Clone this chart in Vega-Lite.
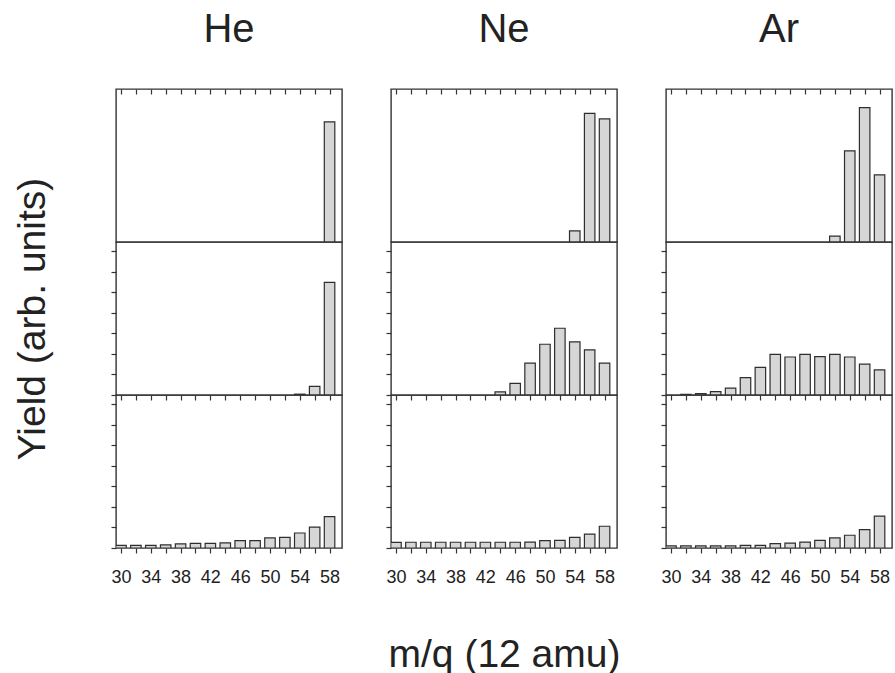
{
  "$schema": "https://vega.github.io/schema/vega-lite/v6.json",
  "autosize": {"type": "pad"},
  "padding": {"left": 12, "top": 9, "right": 0, "bottom": 0},
  "background": "white",
  "data": {"values": [
    {"gas": "He", "row": 1, "mz": 58, "v": 5.85},
    {"gas": "He", "row": 2, "mz": 54, "v": 0.04},
    {"gas": "He", "row": 2, "mz": 56, "v": 0.42},
    {"gas": "He", "row": 2, "mz": 58, "v": 5.48},
    {"gas": "He", "row": 3, "mz": 30, "v": 0.13},
    {"gas": "He", "row": 3, "mz": 32, "v": 0.13},
    {"gas": "He", "row": 3, "mz": 34, "v": 0.13},
    {"gas": "He", "row": 3, "mz": 36, "v": 0.15},
    {"gas": "He", "row": 3, "mz": 38, "v": 0.2},
    {"gas": "He", "row": 3, "mz": 40, "v": 0.23},
    {"gas": "He", "row": 3, "mz": 42, "v": 0.23},
    {"gas": "He", "row": 3, "mz": 44, "v": 0.25},
    {"gas": "He", "row": 3, "mz": 46, "v": 0.36},
    {"gas": "He", "row": 3, "mz": 48, "v": 0.36},
    {"gas": "He", "row": 3, "mz": 50, "v": 0.49},
    {"gas": "He", "row": 3, "mz": 52, "v": 0.52},
    {"gas": "He", "row": 3, "mz": 54, "v": 0.73},
    {"gas": "He", "row": 3, "mz": 56, "v": 1.02},
    {"gas": "He", "row": 3, "mz": 58, "v": 1.53},
    {"gas": "Ne", "row": 1, "mz": 54, "v": 0.54},
    {"gas": "Ne", "row": 1, "mz": 56, "v": 6.26},
    {"gas": "Ne", "row": 1, "mz": 58, "v": 6.0},
    {"gas": "Ne", "row": 2, "mz": 44, "v": 0.15},
    {"gas": "Ne", "row": 2, "mz": 46, "v": 0.57},
    {"gas": "Ne", "row": 2, "mz": 48, "v": 1.55},
    {"gas": "Ne", "row": 2, "mz": 50, "v": 2.47},
    {"gas": "Ne", "row": 2, "mz": 52, "v": 3.25},
    {"gas": "Ne", "row": 2, "mz": 54, "v": 2.59},
    {"gas": "Ne", "row": 2, "mz": 56, "v": 2.2},
    {"gas": "Ne", "row": 2, "mz": 58, "v": 1.55},
    {"gas": "Ne", "row": 3, "mz": 30, "v": 0.27},
    {"gas": "Ne", "row": 3, "mz": 32, "v": 0.28},
    {"gas": "Ne", "row": 3, "mz": 34, "v": 0.28},
    {"gas": "Ne", "row": 3, "mz": 36, "v": 0.28},
    {"gas": "Ne", "row": 3, "mz": 38, "v": 0.28},
    {"gas": "Ne", "row": 3, "mz": 40, "v": 0.28},
    {"gas": "Ne", "row": 3, "mz": 42, "v": 0.28},
    {"gas": "Ne", "row": 3, "mz": 44, "v": 0.28},
    {"gas": "Ne", "row": 3, "mz": 46, "v": 0.28},
    {"gas": "Ne", "row": 3, "mz": 48, "v": 0.29},
    {"gas": "Ne", "row": 3, "mz": 50, "v": 0.36},
    {"gas": "Ne", "row": 3, "mz": 52, "v": 0.37},
    {"gas": "Ne", "row": 3, "mz": 54, "v": 0.52},
    {"gas": "Ne", "row": 3, "mz": 56, "v": 0.68},
    {"gas": "Ne", "row": 3, "mz": 58, "v": 1.06},
    {"gas": "Ar", "row": 1, "mz": 52, "v": 0.29},
    {"gas": "Ar", "row": 1, "mz": 54, "v": 4.44},
    {"gas": "Ar", "row": 1, "mz": 56, "v": 6.54},
    {"gas": "Ar", "row": 1, "mz": 58, "v": 3.27},
    {"gas": "Ar", "row": 2, "mz": 32, "v": 0.03},
    {"gas": "Ar", "row": 2, "mz": 34, "v": 0.07},
    {"gas": "Ar", "row": 2, "mz": 36, "v": 0.16},
    {"gas": "Ar", "row": 2, "mz": 38, "v": 0.33},
    {"gas": "Ar", "row": 2, "mz": 40, "v": 0.85},
    {"gas": "Ar", "row": 2, "mz": 42, "v": 1.35},
    {"gas": "Ar", "row": 2, "mz": 44, "v": 1.98},
    {"gas": "Ar", "row": 2, "mz": 46, "v": 1.85},
    {"gas": "Ar", "row": 2, "mz": 48, "v": 1.98},
    {"gas": "Ar", "row": 2, "mz": 50, "v": 1.87},
    {"gas": "Ar", "row": 2, "mz": 52, "v": 1.98},
    {"gas": "Ar", "row": 2, "mz": 54, "v": 1.85},
    {"gas": "Ar", "row": 2, "mz": 56, "v": 1.5},
    {"gas": "Ar", "row": 2, "mz": 58, "v": 1.22},
    {"gas": "Ar", "row": 3, "mz": 30, "v": 0.1},
    {"gas": "Ar", "row": 3, "mz": 32, "v": 0.1},
    {"gas": "Ar", "row": 3, "mz": 34, "v": 0.1},
    {"gas": "Ar", "row": 3, "mz": 36, "v": 0.1},
    {"gas": "Ar", "row": 3, "mz": 38, "v": 0.1},
    {"gas": "Ar", "row": 3, "mz": 40, "v": 0.13},
    {"gas": "Ar", "row": 3, "mz": 42, "v": 0.13},
    {"gas": "Ar", "row": 3, "mz": 44, "v": 0.21},
    {"gas": "Ar", "row": 3, "mz": 46, "v": 0.24},
    {"gas": "Ar", "row": 3, "mz": 48, "v": 0.29},
    {"gas": "Ar", "row": 3, "mz": 50, "v": 0.37},
    {"gas": "Ar", "row": 3, "mz": 52, "v": 0.49},
    {"gas": "Ar", "row": 3, "mz": 54, "v": 0.62},
    {"gas": "Ar", "row": 3, "mz": 56, "v": 0.89},
    {"gas": "Ar", "row": 3, "mz": 58, "v": 1.55}
  ]},
  "columns": 3,
  "spacing": {"row": 0, "column": 49},
  "bounds": "flush",
  "concat": [
    {
      "width": 226, "height": 153,
      "title": {"text": "He"},
      "transform": [{"filter": "datum.gas === 'He' && datum.row === 1"}],
      "layer": [
        {
          "mark": {"type": "bar", "width": 10.5, "fill": "#d6d6d6", "stroke": "#2e2e2e", "strokeWidth": 1.2, "clip": true},
          "encoding": {
            "x": {"field": "mz", "type": "quantitative", "scale": {"domain": [30, 59], "nice": false, "zero": false}, "axis": {"values": [30,32,34,36,38,40,42,44,46,48,50,52,54,56,58], "labels": false, "title": null}},
            "y": {"field": "v", "type": "quantitative", "scale": {"domain": [0, 7.45], "nice": false}, "axis": {"values": [0,1,2,3,4,5,6,7], "labels": false, "title": null}}
          }
        },
        {
          "mark": {"type": "bar", "width": 10.5, "opacity": 0},
          "encoding": {
            "x": {"field": "mz", "type": "quantitative", "axis": {"orient": "top", "values": [32,36,40,44,48,52,56], "labels": false, "title": null, "tickSize": -5}},
            "y": {"field": "v", "type": "quantitative", "axis": null}
          }
        }
      ]
    },
    {
      "width": 226, "height": 153,
      "title": {"text": "Ne"},
      "transform": [{"filter": "datum.gas === 'Ne' && datum.row === 1"}],
      "layer": [
        {
          "mark": {"type": "bar", "width": 10.5, "fill": "#d6d6d6", "stroke": "#2e2e2e", "strokeWidth": 1.2, "clip": true},
          "encoding": {
            "x": {"field": "mz", "type": "quantitative", "scale": {"domain": [30, 59], "nice": false, "zero": false}, "axis": {"values": [30,32,34,36,38,40,42,44,46,48,50,52,54,56,58], "labels": false, "title": null}},
            "y": {"field": "v", "type": "quantitative", "scale": {"domain": [0, 7.45], "nice": false}, "axis": {"values": [0,1,2,3,4,5,6,7], "labels": false, "title": null}}
          }
        },
        {
          "mark": {"type": "bar", "width": 10.5, "opacity": 0},
          "encoding": {
            "x": {"field": "mz", "type": "quantitative", "axis": {"orient": "top", "values": [32,36,40,44,48,52,56], "labels": false, "title": null, "tickSize": -5}},
            "y": {"field": "v", "type": "quantitative", "axis": null}
          }
        }
      ]
    },
    {
      "width": 226, "height": 153,
      "title": {"text": "Ar"},
      "transform": [{"filter": "datum.gas === 'Ar' && datum.row === 1"}],
      "layer": [
        {
          "mark": {"type": "bar", "width": 10.5, "fill": "#d6d6d6", "stroke": "#2e2e2e", "strokeWidth": 1.2, "clip": true},
          "encoding": {
            "x": {"field": "mz", "type": "quantitative", "scale": {"domain": [30, 59], "nice": false, "zero": false}, "axis": {"values": [30,32,34,36,38,40,42,44,46,48,50,52,54,56,58], "labels": false, "title": null}},
            "y": {"field": "v", "type": "quantitative", "scale": {"domain": [0, 7.45], "nice": false}, "axis": {"values": [0,1,2,3,4,5,6,7], "labels": false, "title": null}}
          }
        },
        {
          "mark": {"type": "bar", "width": 10.5, "opacity": 0},
          "encoding": {
            "x": {"field": "mz", "type": "quantitative", "axis": {"orient": "top", "values": [32,36,40,44,48,52,56], "labels": false, "title": null, "tickSize": -5}},
            "y": {"field": "v", "type": "quantitative", "axis": null}
          }
        }
      ]
    },
    {
      "width": 226, "height": 153,
      "transform": [{"filter": "datum.gas === 'He' && datum.row === 2"}],
      "mark": {"type": "bar", "width": 10.5, "fill": "#d6d6d6", "stroke": "#2e2e2e", "strokeWidth": 1.2, "clip": true},
      "encoding": {
        "x": {"field": "mz", "type": "quantitative", "scale": {"domain": [30, 59], "nice": false, "zero": false}, "axis": {"values": [30,32,34,36,38,40,42,44,46,48,50,52,54,56,58], "labels": false, "title": null}},
        "y": {"field": "v", "type": "quantitative", "scale": {"domain": [0, 7.45], "nice": false}, "axis": {"values": [0,1,2,3,4,5,6,7], "labels": false, "title": "Yield (arb. units)", "titleFontSize": 39, "titlePadding": 58}}
      }
    },
    {
      "width": 226, "height": 153,
      "transform": [{"filter": "datum.gas === 'Ne' && datum.row === 2"}],
      "mark": {"type": "bar", "width": 10.5, "fill": "#d6d6d6", "stroke": "#2e2e2e", "strokeWidth": 1.2, "clip": true},
      "encoding": {
        "x": {"field": "mz", "type": "quantitative", "scale": {"domain": [30, 59], "nice": false, "zero": false}, "axis": {"values": [30,32,34,36,38,40,42,44,46,48,50,52,54,56,58], "labels": false, "title": null}},
        "y": {"field": "v", "type": "quantitative", "scale": {"domain": [0, 7.45], "nice": false}, "axis": {"values": [0,1,2,3,4,5,6,7], "labels": false, "title": null}}
      }
    },
    {
      "width": 226, "height": 153,
      "transform": [{"filter": "datum.gas === 'Ar' && datum.row === 2"}],
      "mark": {"type": "bar", "width": 10.5, "fill": "#d6d6d6", "stroke": "#2e2e2e", "strokeWidth": 1.2, "clip": true},
      "encoding": {
        "x": {"field": "mz", "type": "quantitative", "scale": {"domain": [30, 59], "nice": false, "zero": false}, "axis": {"values": [30,32,34,36,38,40,42,44,46,48,50,52,54,56,58], "labels": false, "title": null}},
        "y": {"field": "v", "type": "quantitative", "scale": {"domain": [0, 7.45], "nice": false}, "axis": {"values": [0,1,2,3,4,5,6,7], "labels": false, "title": null}}
      }
    },
    {
      "width": 226, "height": 153,
      "transform": [{"filter": "datum.gas === 'He' && datum.row === 3"}],
      "mark": {"type": "bar", "width": 10.5, "fill": "#d6d6d6", "stroke": "#2e2e2e", "strokeWidth": 1.2, "clip": true},
      "encoding": {
        "x": {"field": "mz", "type": "quantitative", "scale": {"domain": [30, 59], "nice": false, "zero": false}, "axis": {"values": [30,32,34,36,38,40,42,44,46,48,50,52,54,56,58], "labelExpr": "datum.value % 4 == 2 ? datum.label : ''", "title": null}},
        "y": {"field": "v", "type": "quantitative", "scale": {"domain": [0, 7.45], "nice": false}, "axis": {"values": [0,1,2,3,4,5,6,7], "labels": false, "title": null}}
      }
    },
    {
      "width": 226, "height": 153,
      "transform": [{"filter": "datum.gas === 'Ne' && datum.row === 3"}],
      "mark": {"type": "bar", "width": 10.5, "fill": "#d6d6d6", "stroke": "#2e2e2e", "strokeWidth": 1.2, "clip": true},
      "encoding": {
        "x": {"field": "mz", "type": "quantitative", "scale": {"domain": [30, 59], "nice": false, "zero": false}, "axis": {"values": [30,32,34,36,38,40,42,44,46,48,50,52,54,56,58], "labelExpr": "datum.value % 4 == 2 ? datum.label : ''", "title": "m/q (12 amu)", "titleFontSize": 39, "titlePadding": 49}},
        "y": {"field": "v", "type": "quantitative", "scale": {"domain": [0, 7.45], "nice": false}, "axis": {"values": [0,1,2,3,4,5,6,7], "labels": false, "title": null}}
      }
    },
    {
      "width": 226, "height": 153,
      "transform": [{"filter": "datum.gas === 'Ar' && datum.row === 3"}],
      "mark": {"type": "bar", "width": 10.5, "fill": "#d6d6d6", "stroke": "#2e2e2e", "strokeWidth": 1.2, "clip": true},
      "encoding": {
        "x": {"field": "mz", "type": "quantitative", "scale": {"domain": [30, 59], "nice": false, "zero": false}, "axis": {"values": [30,32,34,36,38,40,42,44,46,48,50,52,54,56,58], "labelExpr": "datum.value % 4 == 2 ? datum.label : ''", "title": null}},
        "y": {"field": "v", "type": "quantitative", "scale": {"domain": [0, 7.45], "nice": false}, "axis": {"values": [0,1,2,3,4,5,6,7], "labels": false, "title": null}}
      }
    }
  ],
  "resolve": {"scale": {"x": "independent", "y": "independent"}},
  "config": {
    "font": "Liberation Sans",
    "view": {"stroke": "#333333", "strokeWidth": 1.4},
    "axis": {
      "grid": false, "domain": false, "tickSize": 5, "tickColor": "#333333", "tickWidth": 1.2,
      "labelFont": "Liberation Sans", "labelFontSize": 18, "labelColor": "#222222", "labelPadding": 15,
      "labelFlush": false, "labelOverlap": false,
      "titleFont": "Liberation Sans", "titleFontWeight": "normal", "titleColor": "#222222"
    },
    "title": {"font": "Liberation Sans", "fontSize": 40, "fontWeight": "normal", "color": "#222222", "offset": 38, "baseline": "alphabetic", "anchor": "middle"}
  }
}
